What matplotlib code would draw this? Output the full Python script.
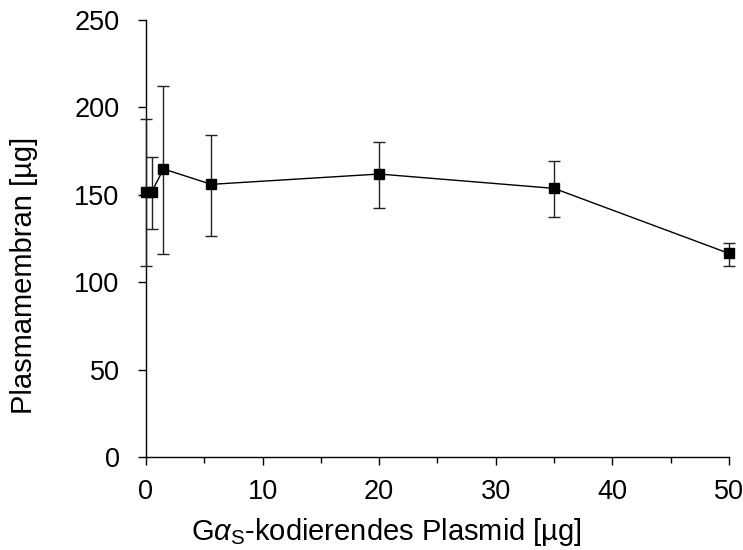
import matplotlib
matplotlib.use("Agg")
import matplotlib.pyplot as plt
from matplotlib.ticker import MultipleLocator

plt.rcParams['font.family'] = ['Liberation Sans', 'DejaVu Sans']
plt.rcParams['mathtext.fontset'] = 'custom'
plt.rcParams['mathtext.rm'] = 'Liberation Sans'
plt.rcParams['mathtext.it'] = 'Liberation Sans:italic'

# Plasmid amount [µg] vs. plasma membrane yield [µg]
plasmid = [0, 0.5, 1.5, 5.6, 20, 35, 50]
membrane = [151.5, 151.8, 164.8, 156.0, 161.9, 153.7, 116.5]
err_upper = [193.4, 171.4, 212.4, 184.0, 180.2, 169.3, 122.6]
err_lower = [109.3, 130.3, 116.1, 126.4, 142.3, 137.5, 109.3]

yerr = [[m - lo for m, lo in zip(membrane, err_lower)],
        [hi - m for m, hi in zip(membrane, err_upper)]]

fs = 19.5

fig = plt.figure(figsize=(7.43, 5.5), dpi=100)
ax = fig.add_axes([0.1965, 0.169, 0.7845, 0.7946])

cont = ax.errorbar(plasmid, membrane, yerr=yerr, color='black', lw=1,
                   marker='s', markersize=7, capsize=4.5, elinewidth=1,
                   capthick=1, ecolor='#222222', zorder=3)
for art in cont.get_children():
    art.set_clip_on(False)

ax.set_xlim(0, 50)
ax.set_ylim(0, 250)
ax.xaxis.set_major_locator(MultipleLocator(10))
ax.xaxis.set_minor_locator(MultipleLocator(5))
ax.yaxis.set_major_locator(MultipleLocator(50))

for s in ['top', 'right']:
    ax.spines[s].set_visible(False)
for s in ['left', 'bottom']:
    ax.spines[s].set_linewidth(1)

ax.tick_params(axis='both', which='major', direction='out', length=6,
               width=1, labelsize=fs)
ax.tick_params(axis='x', which='major', pad=10)
ax.tick_params(axis='x', which='minor', direction='out', length=4, width=1)
ax.tick_params(axis='y', which='major', pad=13)

ax.set_xlabel(r'G$\alpha_{\mathrm{S}}$-kodierendes Plasmid [µg]', fontsize=21, labelpad=0)
ax.set_ylabel('Plasmamembran [µg]', fontsize=21, labelpad=6)
ax.xaxis.set_label_coords(0.413, -0.135)
ax.yaxis.set_label_coords(-0.185, 0.416)

fig.savefig('out.png', dpi=100)
